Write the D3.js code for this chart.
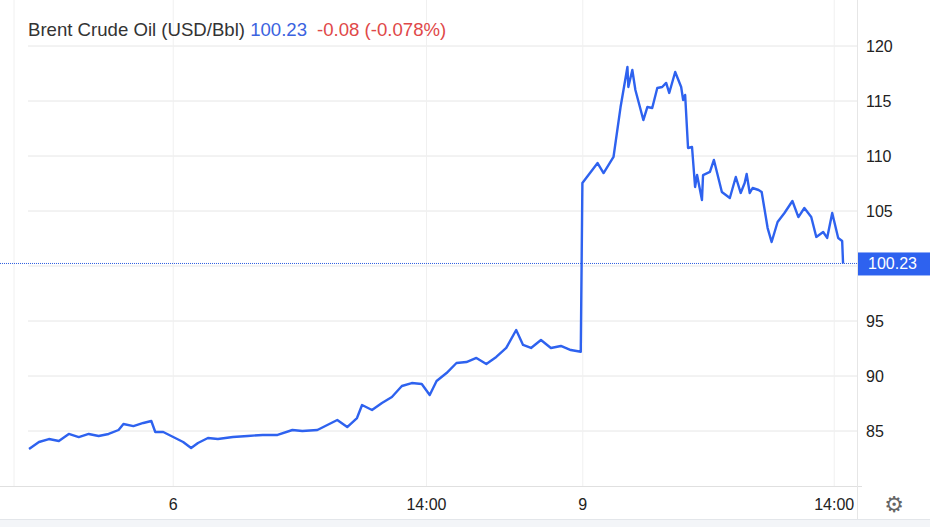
<!DOCTYPE html>
<html><head><meta charset="utf-8">
<script src="https://cdn.jsdelivr.net/npm/d3@7"></script>
<style>body{margin:0;background:#fff;font-family:"Liberation Sans",Arial,sans-serif}</style>
</head><body><svg id="c" width="930" height="527"></svg>
<script>
const times=[-7.97,-7.42,-6.87,-6.32,-5.77,-5.22,-4.67,-4.12,-3.57,-3.02,-2.75,-2.2,-1.65,-1.21,-0.99,-0.55,0,0.55,0.99,1.37,1.92,2.47,3.3,4.12,4.95,5.77,6.59,7.14,7.97,8.52,9.07,9.62,10.16,10.44,10.99,11.54,12.09,12.64,13.19,13.74,14.18,14.56,15.11,15.66,16.21,16.76,17.31,17.86,18.41,18.96,19.34,19.78,20.33,20.88,21.43,21.98,22.53,22.62,23.46,23.79,24.34,24.73,25.11,25.16,25.38,25.55,25.99,26.21,26.48,26.76,27.03,27.25,27.42,27.75,28.08,28.19,28.3,28.46,28.68,28.85,28.96,29.23,29.29,29.67,29.89,30.33,30.77,31.1,31.37,31.59,31.7,31.87,32.03,32.36,32.53,32.86,33.08,33.41,33.79,34.23,34.56,34.89,35.27,35.55,35.93,36.15,36.43,36.76,36.98,37.03];
const prices=[83.36,84.0,84.27,84.09,84.73,84.45,84.73,84.55,84.73,85.09,85.64,85.45,85.73,85.91,84.91,84.91,84.45,84.0,83.45,83.91,84.36,84.27,84.45,84.55,84.64,84.64,85.09,85.0,85.09,85.55,86.0,85.36,86.18,87.36,86.91,87.55,88.09,89.09,89.36,89.27,88.27,89.55,90.27,91.18,91.27,91.64,91.09,91.73,92.55,94.18,92.82,92.55,93.27,92.55,92.73,92.36,92.2,107.55,109.36,108.45,109.91,114.45,118.09,116.27,117.82,116.0,113.27,114.45,114.36,116.18,116.27,116.64,115.73,117.64,116.27,115.09,115.55,110.73,110.82,107.18,108.27,106.0,108.27,108.55,109.64,106.73,106.18,108.09,106.64,107.55,108.36,106.64,107.09,106.91,106.73,103.45,102.18,104.0,104.82,105.91,104.45,105.27,104.45,102.64,103.09,102.55,104.82,102.55,102.27,100.23];
const xTickVals=[0,14,22.64,36.54];
const xTickLabels=["6","14:00","9","14:00"];
const yTicks=[85,90,95,100,105,110,115,120];
const last=100.23;

const svg=d3.select("#c");
const x=d3.scaleLinear().domain([-8.8,37.8]).range([14,857]);
const y=d3.scaleLinear().domain([80,125]).range([486,-9]);
svg.append("g").selectAll("line").data(yTicks).join("line")
 .attr("x1",28).attr("x2",857).attr("y1",d=>y(d)).attr("y2",d=>y(d)).attr("stroke","#e6e6e6");
svg.append("g").selectAll("line").data(xTickVals).join("line")
 .attr("x1",d=>x(d)).attr("x2",d=>x(d)).attr("y1",0).attr("y2",486).attr("stroke","#f0f0f0");
svg.append("line").attr("x1",14).attr("x2",14).attr("y1",0).attr("y2",486).attr("stroke","#f0f0f0");
svg.append("line").attr("x1",0).attr("x2",862).attr("y1",486.5).attr("y2",486.5).attr("stroke","#e0e0e0");
svg.append("line").attr("x1",857.5).attr("x2",857.5).attr("y1",0).attr("y2",527).attr("stroke","#e6e6e6");
svg.append("rect").attr("x",0).attr("y",519).attr("width",930).attr("height",8).attr("fill","#f3f5f8");
svg.append("line").attr("x1",0).attr("x2",930).attr("y1",519.5).attr("y2",519.5).attr("stroke","#e3e6ea");
svg.append("g").selectAll("text").data(yTicks.filter(d=>Math.abs(d-last)>2)).join("text")
 .attr("x",866).attr("y",d=>y(d)+6).attr("font-size",16).attr("fill","#222").text(d=>d);
svg.append("g").selectAll("text").data(xTickVals).join("text")
 .attr("x",d=>x(d)).attr("y",510).attr("text-anchor","middle").attr("font-size",16).attr("fill","#222").text((d,i)=>xTickLabels[i]);
svg.append("rect").attr("x",858).attr("y",487).attr("width",72).attr("height",32).attr("fill","#fff");
svg.append("line").attr("x1",0).attr("x2",857).attr("y1",y(last)).attr("y2",y(last))
 .attr("stroke","#2f5fe0").attr("stroke-width",1).attr("stroke-dasharray","1,1");
svg.append("path").datum(times.map((t,i)=>[t,prices[i]]))
 .attr("d",d3.line().x(d=>x(d[0])).y(d=>y(d[1])))
 .attr("fill","none").attr("stroke","#2e62ef").attr("stroke-width",2.4).attr("stroke-linejoin","round");
svg.append("rect").attr("x",858).attr("y",y(last)-11).attr("width",72).attr("height",23).attr("fill","#2e62ef");
svg.append("text").attr("x",868).attr("y",y(last)+6).attr("font-size",16).attr("fill","#fff").text(last.toFixed(2));
svg.append("text").attr("x",894).attr("y",512).attr("text-anchor","middle").attr("font-size",22).attr("fill","#666").attr("font-family","DejaVu Sans").text("⚙");
const t=svg.append("text").attr("x",28).attr("y",36).attr("font-size",18.6);
t.append("tspan").attr("fill","#333").text("Brent Crude Oil (USD/Bbl) ");
t.append("tspan").attr("fill","#3b63e0").text("100.23");
t.append("tspan").attr("fill","#e04848").attr("dx",10).text("-0.08 (-0.078%)");
</script></body></html>
